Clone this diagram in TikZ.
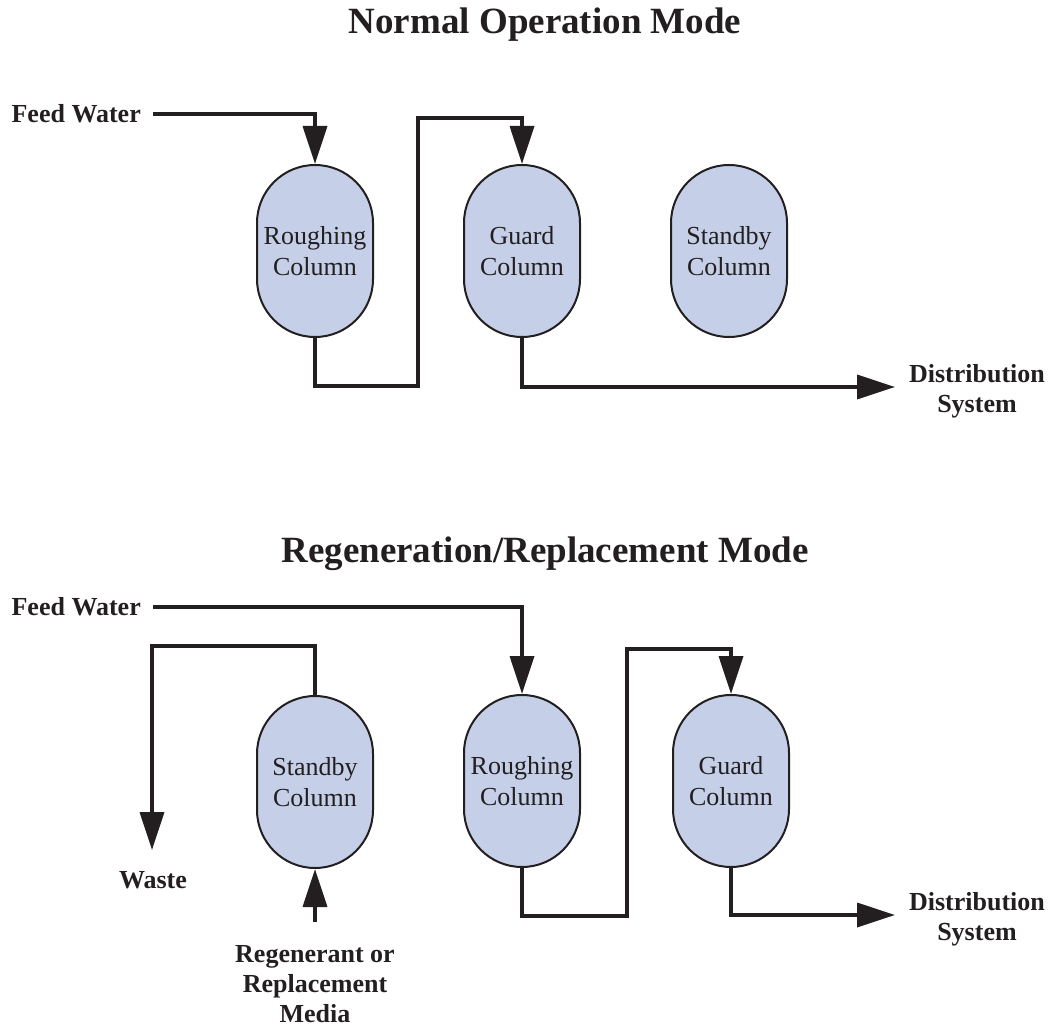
\documentclass[tikz,border=0pt]{standalone}
\usepackage{fontspec}
\setmainfont{Liberation Serif}
\usetikzlibrary{arrows.meta}
\definecolor{ink}{RGB}{35,31,32}
\definecolor{colfill}{RGB}{197,208,232}
\tikzset{
  column/.style={draw=ink, line width=2pt, fill=colfill, rounded corners=58pt,
    minimum width=116pt, minimum height=172pt, inner sep=0pt, align=center,
    text=ink, font=\fontsize{26}{31}\selectfont},
  pipe/.style={draw=ink, line width=3.5pt, line join=miter},
  flow/.style={pipe, -{Triangle[length=38pt,width=24pt]}},
  lbl/.style={inner sep=0pt, align=center, text=ink, font=\fontsize{26}{30}\selectfont\bfseries},
  title/.style={inner sep=0pt, anchor=base, text=ink, font=\fontsize{37}{40}\selectfont\bfseries}
}
\begin{document}
\begin{tikzpicture}[x=1pt,y=-1pt]
\useasboundingbox (0,0) rectangle (1050,1027);
% ---------- Normal operation ----------
\node[title] (t1) at (545,34) {Normal Operation Mode};
\node[lbl, anchor=east] (fw1) at (141,114) {Feed Water};
\node[column] (r1) at (315,251) {Roughing\\Column};
\node[column] (g1) at (522,251) {Guard\\Column};
\node[column] (s1) at (729,251) {Standby\\Column};
\coordinate (d1) at (895,387);
\node[lbl] (ds1) at (977,391) {Distribution\\System};
\draw[flow] ([xshift=12pt]fw1.east) -| (r1.north);
\draw[flow] (r1.south) -- ++(0,48) -- ++(103,0) -- ++(0,-268) -| (g1.north);
\draw[flow] (g1.south) |- (d1);
% ---------- Regeneration ----------
\node[title] (t2) at (545,562) {Regeneration/Replacement Mode};
\node[lbl, anchor=east] (fw2) at (141,607) {Feed Water};
\node[column] (s2) at (315,782) {Standby\\Column};
\node[column] (r2) at (522,781) {Roughing\\Column};
\node[column] (g2) at (731,781) {Guard\\Column};
\coordinate (wend) at (152,850);
\node[lbl] (waste) at (153,880) {Waste};
\coordinate (regstart) at (315,922);
\node[lbl] (reg) at (315,984) {Regenerant or\\Replacement\\Media};
\coordinate (d2) at (895,915);
\node[lbl] (ds2) at (977,919) {Distribution\\System};
\draw[flow] ([xshift=12pt]fw2.east) -| (r2.north);
\draw[flow] (s2.north) -- ++(0,-49) -| (wend);
\draw[flow] (regstart) -- (s2.south);
\draw[flow] (r2.south) -- ++(0,48) -- ++(105,0) -- ++(0,-267) -| (g2.north);
\draw[flow] (g2.south) |- (d2);
\end{tikzpicture}
\end{document}
